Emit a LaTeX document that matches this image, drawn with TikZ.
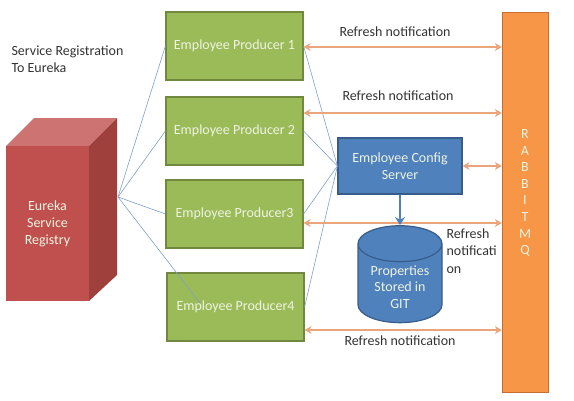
\documentclass[tikz,border=0pt]{standalone}
\usepackage{fontspec}
\setmainfont{Carlito}
\usetikzlibrary{arrows.meta,shapes.geometric}
\definecolor{prodgreen}{HTML}{9BBB59}
\definecolor{prodedge}{HTML}{71893F}
\definecolor{cfgblue}{HTML}{4F81BD}
\definecolor{cfgedge}{HTML}{385D8A}
\definecolor{mqorange}{HTML}{F79646}
\definecolor{notifyorange}{HTML}{EBA57C}
\definecolor{regline}{HTML}{7F9FCB}
\definecolor{boxtext}{HTML}{EEF3E2}
\tikzset{
  producer/.style={draw=prodedge, fill=prodgreen, line width=1.2pt,
    minimum width=137pt, minimum height=68pt, text=boxtext, font=\fontsize{14}{17}\selectfont},
  notifyarrow/.style={draw=notifyorange, line width=2.2pt,
    {Stealth[length=7pt,width=8pt]}-{Stealth[length=7pt,width=8pt]}},
  regarrow/.style={draw=regline, line width=0.6pt},
  label/.style={font=\fontsize{14}{17.5}\selectfont, text=black!80}
}
\newcommand{\register}[2]{
  \draw [regarrow] (#1) to (#2)
}
\newcommand{\notify}[2]{
  \draw [notifyarrow] (#1.east |- 0,#2) to (rabbit.west |- 0,#2)
}

\begin{document}
\begin{tikzpicture}[x=1pt,y=-1pt]
\useasboundingbox (0,0) rectangle (574,400);

% eureka box
\fill[fill={rgb,255:red,205;green,115;blue,113}] (6,146) -- (34,118) -- (117,118) -- (89,146) -- cycle;
\fill[fill={rgb,255:red,160;green,64;blue,61}] (89,146) -- (117,118) -- (117,275) -- (89,301) -- cycle;
\node[fill={rgb,255:red,192;green,80;blue,77}, minimum width=83pt, minimum height=155pt,
  text=boxtext, align=center, font=\fontsize{14}{17}\selectfont] (eureka) at (47.5,223.5)
  {Eureka\\Service\\Registry};
\coordinate (hub) at (118,197);

\node[label, align=left, anchor=west] (regtext) at (8,59) {Service Registration\\To Eureka};

% producers
\node[producer] (P1) at (234.5, 46) {Employee Producer 1};
\node[producer] (P2) at (234.5,131) {Employee Producer 2};
\node[producer] (P3) at (234.5,214) {Employee Producer3};
\node[producer] (P4) at (235.5,307) {Employee Producer4};
\coordinate (P4in) at (200,303);

% config server and git store
\node[draw=cfgedge, fill=cfgblue, line width=1.2pt, minimum width=124pt, minimum height=56pt,
  text=boxtext, align=center, font=\fontsize{14}{16.5}\selectfont] (config) at (400,166)
  {Employee Config\\Server};
\node[cylinder, shape border rotate=90, aspect=0.55, draw=cfgedge, fill=cfgblue, line width=1.2pt,
  minimum width=84pt, minimum height=85pt, text=boxtext, align=center,
  font=\fontsize{14}{16.5}\selectfont] (git) at (400,287)
  {Properties\\Stored in\\GIT};

% rabbit mq
\node[draw={rgb,255:red,200;green,110;blue,50}, fill=mqorange, minimum width=46pt, minimum height=380pt] (rabbit) at (525,202) {};
\node[text=boxtext, align=center, anchor=north, font=\fontsize{14}{16.6}\selectfont] (mqtext) at (525,126)
  {R\\A\\B\\B\\I\\T\\M\\Q};

% registration lines
\register {hub} {P1.west};
\register {hub} {P2.west};
\register {hub} {P3.west};
\register {hub} {P4in};

% lines to config
\register {P1.east} {config.west};
\register {P2.east} {config.west};
\register {P3.east} {config.west};
\register {P4.east} {config.west};

% refresh notifications
\notify {P1} {47};
\notify {P2} {113};
\notify {P3} {223};
\notify {P4} {330};
\notify {config} {166};
\draw[draw=cfgblue, line width=2.2pt, -{Stealth[length=8pt,width=10pt]}] (config) to (git.top);

\node[label] (N1) at (395, 32) {Refresh notification};
\node[label] (N2) at (398, 96) {Refresh notification};
\node[label, align=left, anchor=west] (N3) at (443,251) {Refresh\\notificati\\on};
\node[label] (N4) at (400,341) {Refresh notification};
\end{tikzpicture}
\end{document}
